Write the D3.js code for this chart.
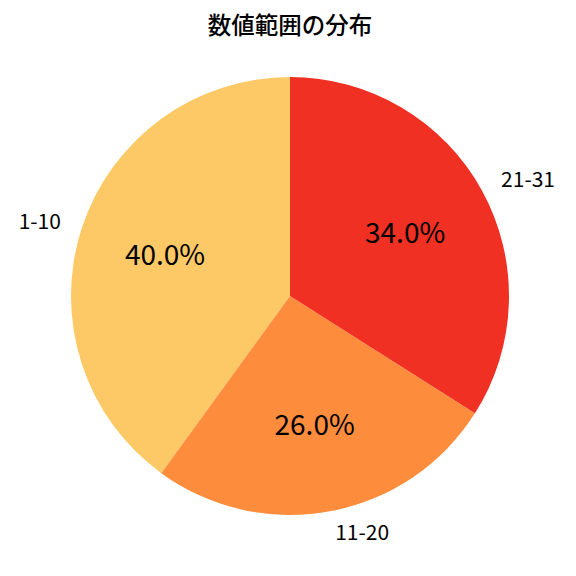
<!DOCTYPE html>
<html>
<head>
<meta charset="utf-8">
<script src="https://cdn.jsdelivr.net/npm/d3@7"></script>
<style>
  body { margin: 0; background: #fff; }
  text { font-family: "Noto Sans CJK JP", "Noto Sans", sans-serif; fill: #000; }
</style>
</head>
<body>
<div id="chart"></div>
<script>
// data
const labels = ["1-10", "11-20", "21-31"];
const values = [40, 26, 34];
const colors = ["#fdc966", "#fd8d3c", "#ef3022"];
const title = "数値範囲の分布";

const width = 576, height = 576;
const cx = 290, cy = 296, radius = 219;

const svg = d3.select("#chart")
  .append("svg")
  .attr("width", width)
  .attr("height", height);

svg.append("text")
  .attr("x", 290)
  .attr("y", 34)
  .attr("text-anchor", "middle")
  .style("font-size", "23.5px")
  .style("font-weight", "500")
  .text(title);

// counterclockwise from 12 o'clock, like matplotlib startangle=90
const pie = d3.pie()
  .sort(null)
  .startAngle(0)
  .endAngle(-2 * Math.PI)
  .value(function (d) { return d; });

const arcs = pie(values);
const total = d3.sum(values);

const arc = d3.arc().innerRadius(0).outerRadius(radius);

const g = svg.append("g").attr("transform", "translate(" + cx + "," + cy + ")");

g.selectAll("path")
  .data(arcs)
  .enter()
  .append("path")
  .attr("d", arc)
  .style("fill", function (d, i) { return colors[i]; });

function pos(d, r) {
  const a = (d.startAngle + d.endAngle) / 2;
  return [r * Math.sin(a), -r * Math.cos(a)];
}

// outer labels
g.selectAll(".lbl")
  .data(arcs)
  .enter()
  .append("text")
  .attr("class", "lbl")
  .attr("x", function (d) { return pos(d, radius * 1.1)[0]; })
  .attr("y", function (d) { return pos(d, radius * 1.1)[1]; })
  .attr("dy", "0.35em")
  .attr("text-anchor", function (d) { return pos(d, 1)[0] < 0 ? "end" : "start"; })
  .style("font-size", "21px")
  .text(function (d, i) { return labels[i]; });

// percentages
g.selectAll(".pct")
  .data(arcs)
  .enter()
  .append("text")
  .attr("class", "pct")
  .attr("x", function (d) { return pos(d, radius * 0.6)[0]; })
  .attr("y", function (d) { return pos(d, radius * 0.6)[1]; })
  .attr("dy", "0.35em")
  .attr("text-anchor", "middle")
  .style("font-size", "28px")
  .text(function (d) { return (d.value / total * 100).toFixed(1) + "%"; });
</script>
</body>
</html>
